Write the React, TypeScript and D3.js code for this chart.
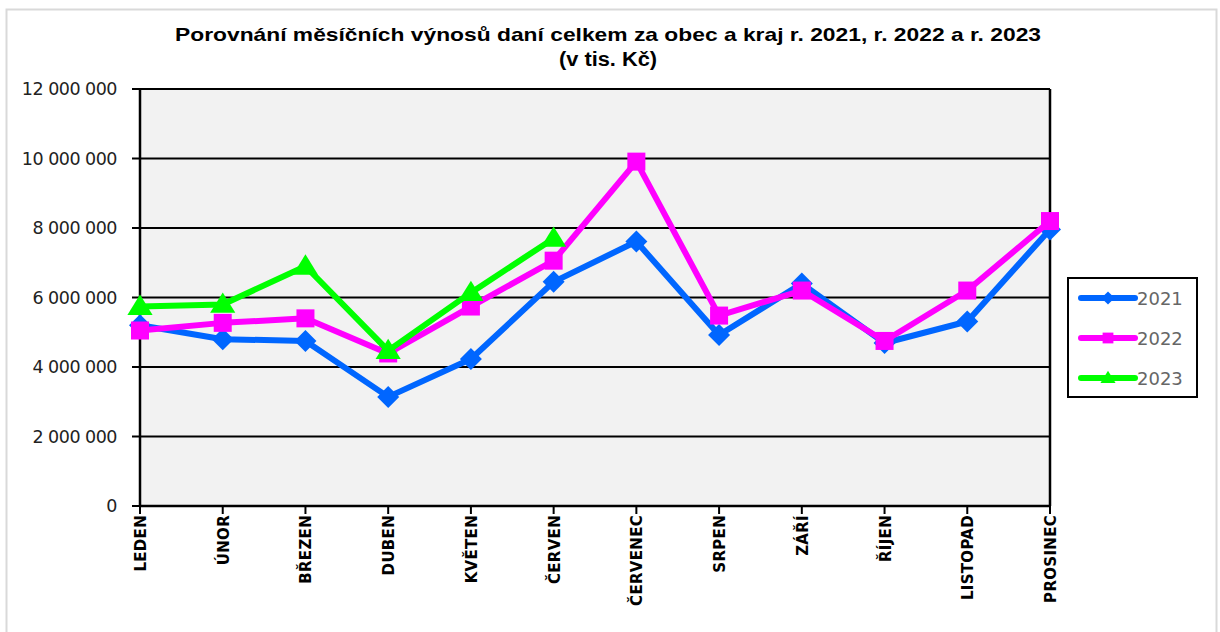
import React from "react";
import * as d3 from "d3";

const months = ["LEDEN", "ÚNOR", "BŘEZEN", "DUBEN", "KVĚTEN", "ČERVEN", "ČERVENEC", "SRPEN", "ZÁŘÍ", "ŘÍJEN", "LISTOPAD", "PROSINEC"];
const values2021 = [5200000, 4800000, 4750000, 3140000, 4230000, 6450000, 7610000, 4920000, 6400000, 4690000, 5310000, 7960000];
const values2022 = [5050000, 5270000, 5400000, 4390000, 5740000, 7060000, 9910000, 5480000, 6200000, 4750000, 6200000, 8200000];
const values2023 = [5740000, 5800000, 6900000, 4470000, 6140000, 7700000];
const yTicks = [0, 2000000, 4000000, 6000000, 8000000, 10000000, 12000000];
const titleLines = ["Porovnání měsíčních výnosů daní celkem za obec a kraj r. 2021, r. 2022 a r. 2023", "(v tis. Kč)"];

type Series = { name: string; values: number[]; color: string; marker: "diamond" | "square" | "triangle" };
const series: Series[] = [
  { name: "2021", values: values2021, color: "#0066ff", marker: "diamond" },
  { name: "2022", values: values2022, color: "#ff00ff", marker: "square" },
  { name: "2023", values: values2023, color: "#00ff00", marker: "triangle" },
];

const W = 1220, H = 632;
const plot = { left: 140, right: 1050, top: 89, bottom: 506 };

const fmt = (v: number) => d3.format(",")(v).replace(/,/g, " ");

function Marker({ kind, x, y, color, scale = 1 }: { kind: string; x: number; y: number; color: string; scale?: number }) {
  if (kind === "diamond") {
    const r = 11 * scale;
    return <path d={`M${x},${y - r}L${x + r},${y}L${x},${y + r}L${x - r},${y}Z`} fill={color} />;
  }
  if (kind === "square") {
    const s = 18 * scale;
    return <rect x={x - s / 2} y={y - s / 2} width={s} height={s} fill={color} />;
  }
  const r = 12 * scale;
  return <path d={`M${x},${y - r}L${x + r * 1.05},${y + r * 0.7}L${x - r * 1.05},${y + r * 0.7}Z`} fill={color} />;
}

export default function App() {
  const x = d3.scalePoint<string>().domain(months).range([plot.left, plot.right]).padding(0);
  const y = d3.scaleLinear().domain([0, 12000000]).range([plot.bottom, plot.top]);
  const line = d3.line<number>().x((_, i) => x(months[i]) as number).y((d) => y(d));

  return (
    <svg width={W} height={H} style={{ position: "absolute", left: 0, top: 0, background: "#fff" }}>
      <rect x={6.5} y={9.5} width={1210} height={640} fill="#fff" stroke="#d9d9d9" strokeWidth={2} />
      {titleLines.map((t, i) => (
        <text key={i} x={608} y={41 + i * 25} textAnchor="middle" fontFamily="'Liberation Sans', Arial, sans-serif" fontWeight="bold" fontSize={i === 0 ? 19 : 20} fill="#000"
          {...(i === 0 ? { textLength: 866, lengthAdjust: "spacingAndGlyphs" } : { textLength: 98, lengthAdjust: "spacingAndGlyphs" })}>{t}</text>
      ))}
      <rect x={plot.left} y={plot.top} width={plot.right - plot.left} height={plot.bottom - plot.top} fill="#f2f2f2" />
      {yTicks.map((t) => (
        <g key={t}>
          <line x1={plot.left} x2={plot.right} y1={y(t)} y2={y(t)} stroke="#000" strokeWidth={2} />
          <line x1={132} x2={plot.left} y1={y(t)} y2={y(t)} stroke="#000" strokeWidth={2} />
          <text x={117} y={y(t) + 6} textAnchor="end" fontFamily="'DejaVu Sans', sans-serif" fontSize={17.5} fill="#222" letterSpacing={-0.5}>{fmt(t)}</text>
        </g>
      ))}
      <line x1={plot.left} x2={plot.left} y1={plot.top} y2={plot.bottom} stroke="#000" strokeWidth={2.5} />
      <line x1={plot.right} x2={plot.right} y1={plot.top} y2={plot.bottom} stroke="#000" strokeWidth={2.5} />
      <line x1={plot.left} x2={plot.right} y1={plot.bottom} y2={plot.bottom} stroke="#000" strokeWidth={2.5} />
      {months.map((m) => (
        <g key={m}>
          <line x1={x(m)} x2={x(m)} y1={plot.bottom} y2={plot.bottom + 8} stroke="#000" strokeWidth={2} />
          <text transform={`translate(${(x(m) as number) + 6},${515}) rotate(-90)`} textAnchor="end" fontFamily="'DejaVu Sans', sans-serif" fontWeight="bold" fontSize={15} fill="#000" letterSpacing={0.3}>{m}</text>
        </g>
      ))}
      {series.map((s) => (
        <g key={s.name}>
          <path d={line(s.values) || ""} fill="none" stroke={s.color} strokeWidth={6} strokeLinejoin="round" />
          {s.values.map((v, i) => (
            <Marker key={i} kind={s.marker} x={x(months[i]) as number} y={y(v)} color={s.color} />
          ))}
        </g>
      ))}
      <rect x={1068} y={278} width={129} height={119} fill="#fff" stroke="#000" strokeWidth={2} />
      {series.map((s, i) => {
        const ly = 298 + i * 40;
        return (
          <g key={s.name}>
            <line x1={1081} x2={1135} y1={ly} y2={ly} stroke={s.color} strokeWidth={6} strokeLinecap="round" />
            <Marker kind={s.marker} x={1108} y={ly} color={s.color} scale={0.6} />
            <text x={1137} y={ly + 7} fontFamily="'DejaVu Sans', sans-serif" fontSize={18} fill="#666">{s.name}</text>
          </g>
        );
      })}
    </svg>
  );
}
